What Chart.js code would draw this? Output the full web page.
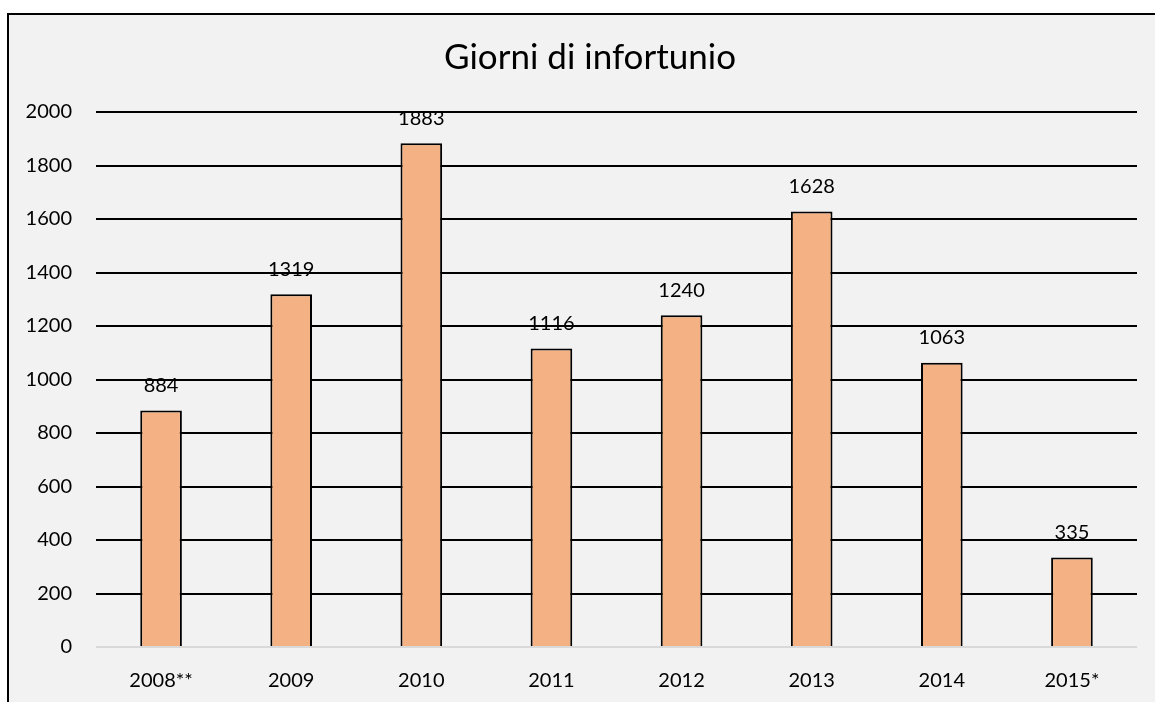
<!DOCTYPE html>
<html>
<head>
<meta charset="utf-8">
<script src="https://cdn.jsdelivr.net/npm/chart.js@4/dist/chart.umd.min.js"></script>
<style>
  html, body { margin: 0; padding: 0; background: #ffffff; }
  #wrap { width: 1155px; height: 702px; }
</style>
</head>
<body>
<div id="wrap"><canvas id="chart" width="1155" height="702"></canvas></div>
<script>
const years = ['2008**', '2009', '2010', '2011', '2012', '2013', '2014', '2015*'];
const days = [884, 1319, 1883, 1116, 1240, 1628, 1063, 335];
const yTicks = [0, 200, 400, 600, 800, 1000, 1200, 1400, 1600, 1800, 2000];
const chartTitle = 'Giorni di infortunio';

const FONT = 'Lato, "Open Sans", sans-serif';

// grey panel with black frame on top/left (right and bottom run off the picture),
// plus the title, which sits centred on the panel rather than on the canvas
const framePlugin = {
  id: 'frame',
  beforeDraw(chart) {
    const ctx = chart.ctx;
    ctx.save();
    ctx.fillStyle = '#f2f2f2';
    ctx.fillRect(8, 14, chart.width, chart.height);
    ctx.strokeStyle = '#000000';
    ctx.lineWidth = 2;
    ctx.beginPath();
    ctx.moveTo(8, chart.height + 5);
    ctx.lineTo(8, 14);
    ctx.lineTo(chart.width + 5, 14);
    ctx.stroke();

    ctx.font = '35px ' + FONT;
    ctx.fillStyle = '#000000';
    ctx.textAlign = 'center';
    ctx.textBaseline = 'middle';
    ctx.fillText(chartTitle, 590, 58);
    ctx.restore();
  }
};

// value labels above each bar
const valueLabels = {
  id: 'valueLabels',
  afterDatasetsDraw(chart) {
    const ctx = chart.ctx;
    const meta = chart.getDatasetMeta(0);
    ctx.save();
    ctx.font = '20px ' + FONT;
    ctx.fillStyle = '#000000';
    ctx.textAlign = 'center';
    ctx.textBaseline = 'middle';
    meta.data.forEach((bar, i) => {
      ctx.fillText(String(days[i]), bar.x, bar.y - 25);
    });
    ctx.restore();
  }
};

new Chart(document.getElementById('chart'), {
  type: 'bar',
  data: {
    labels: years,
    datasets: [{
      label: chartTitle,
      data: days,
      backgroundColor: '#f4b183',
      borderColor: '#000000',
      borderWidth: 2,
      borderSkipped: 'bottom',
      categoryPercentage: 1,
      barPercentage: 0.32
    }]
  },
  options: {
    responsive: false,
    animation: false,
    layout: { padding: { left: 0, right: 18, top: 112, bottom: 0 } },
    plugins: {
      legend: { display: false },
      tooltip: { enabled: false },
      title: { display: false }
    },
    scales: {
      x: {
        grid: { display: false },
        border: { display: false },
        ticks: {
          color: '#000000',
          font: { family: FONT, size: 20 },
          padding: 14
        },
        afterFit(scale) { scale.height = 55; }
      },
      y: {
        min: 0,
        max: 2000,
        afterBuildTicks(scale) {
          scale.ticks = yTicks.map(v => ({ value: v }));
        },
        grid: {
          color: ctx => ctx.tick && ctx.tick.value === 0 ? '#d9d9d9' : '#000000',
          lineWidth: 2,
          drawTicks: false
        },
        border: { display: false },
        ticks: {
          color: '#000000',
          font: { family: FONT, size: 20 },
          padding: 24,
          callback: v => String(v)
        },
        afterFit(scale) { scale.width = 96; }
      }
    }
  },
  plugins: [framePlugin, valueLabels]
});
</script>
</body>
</html>
